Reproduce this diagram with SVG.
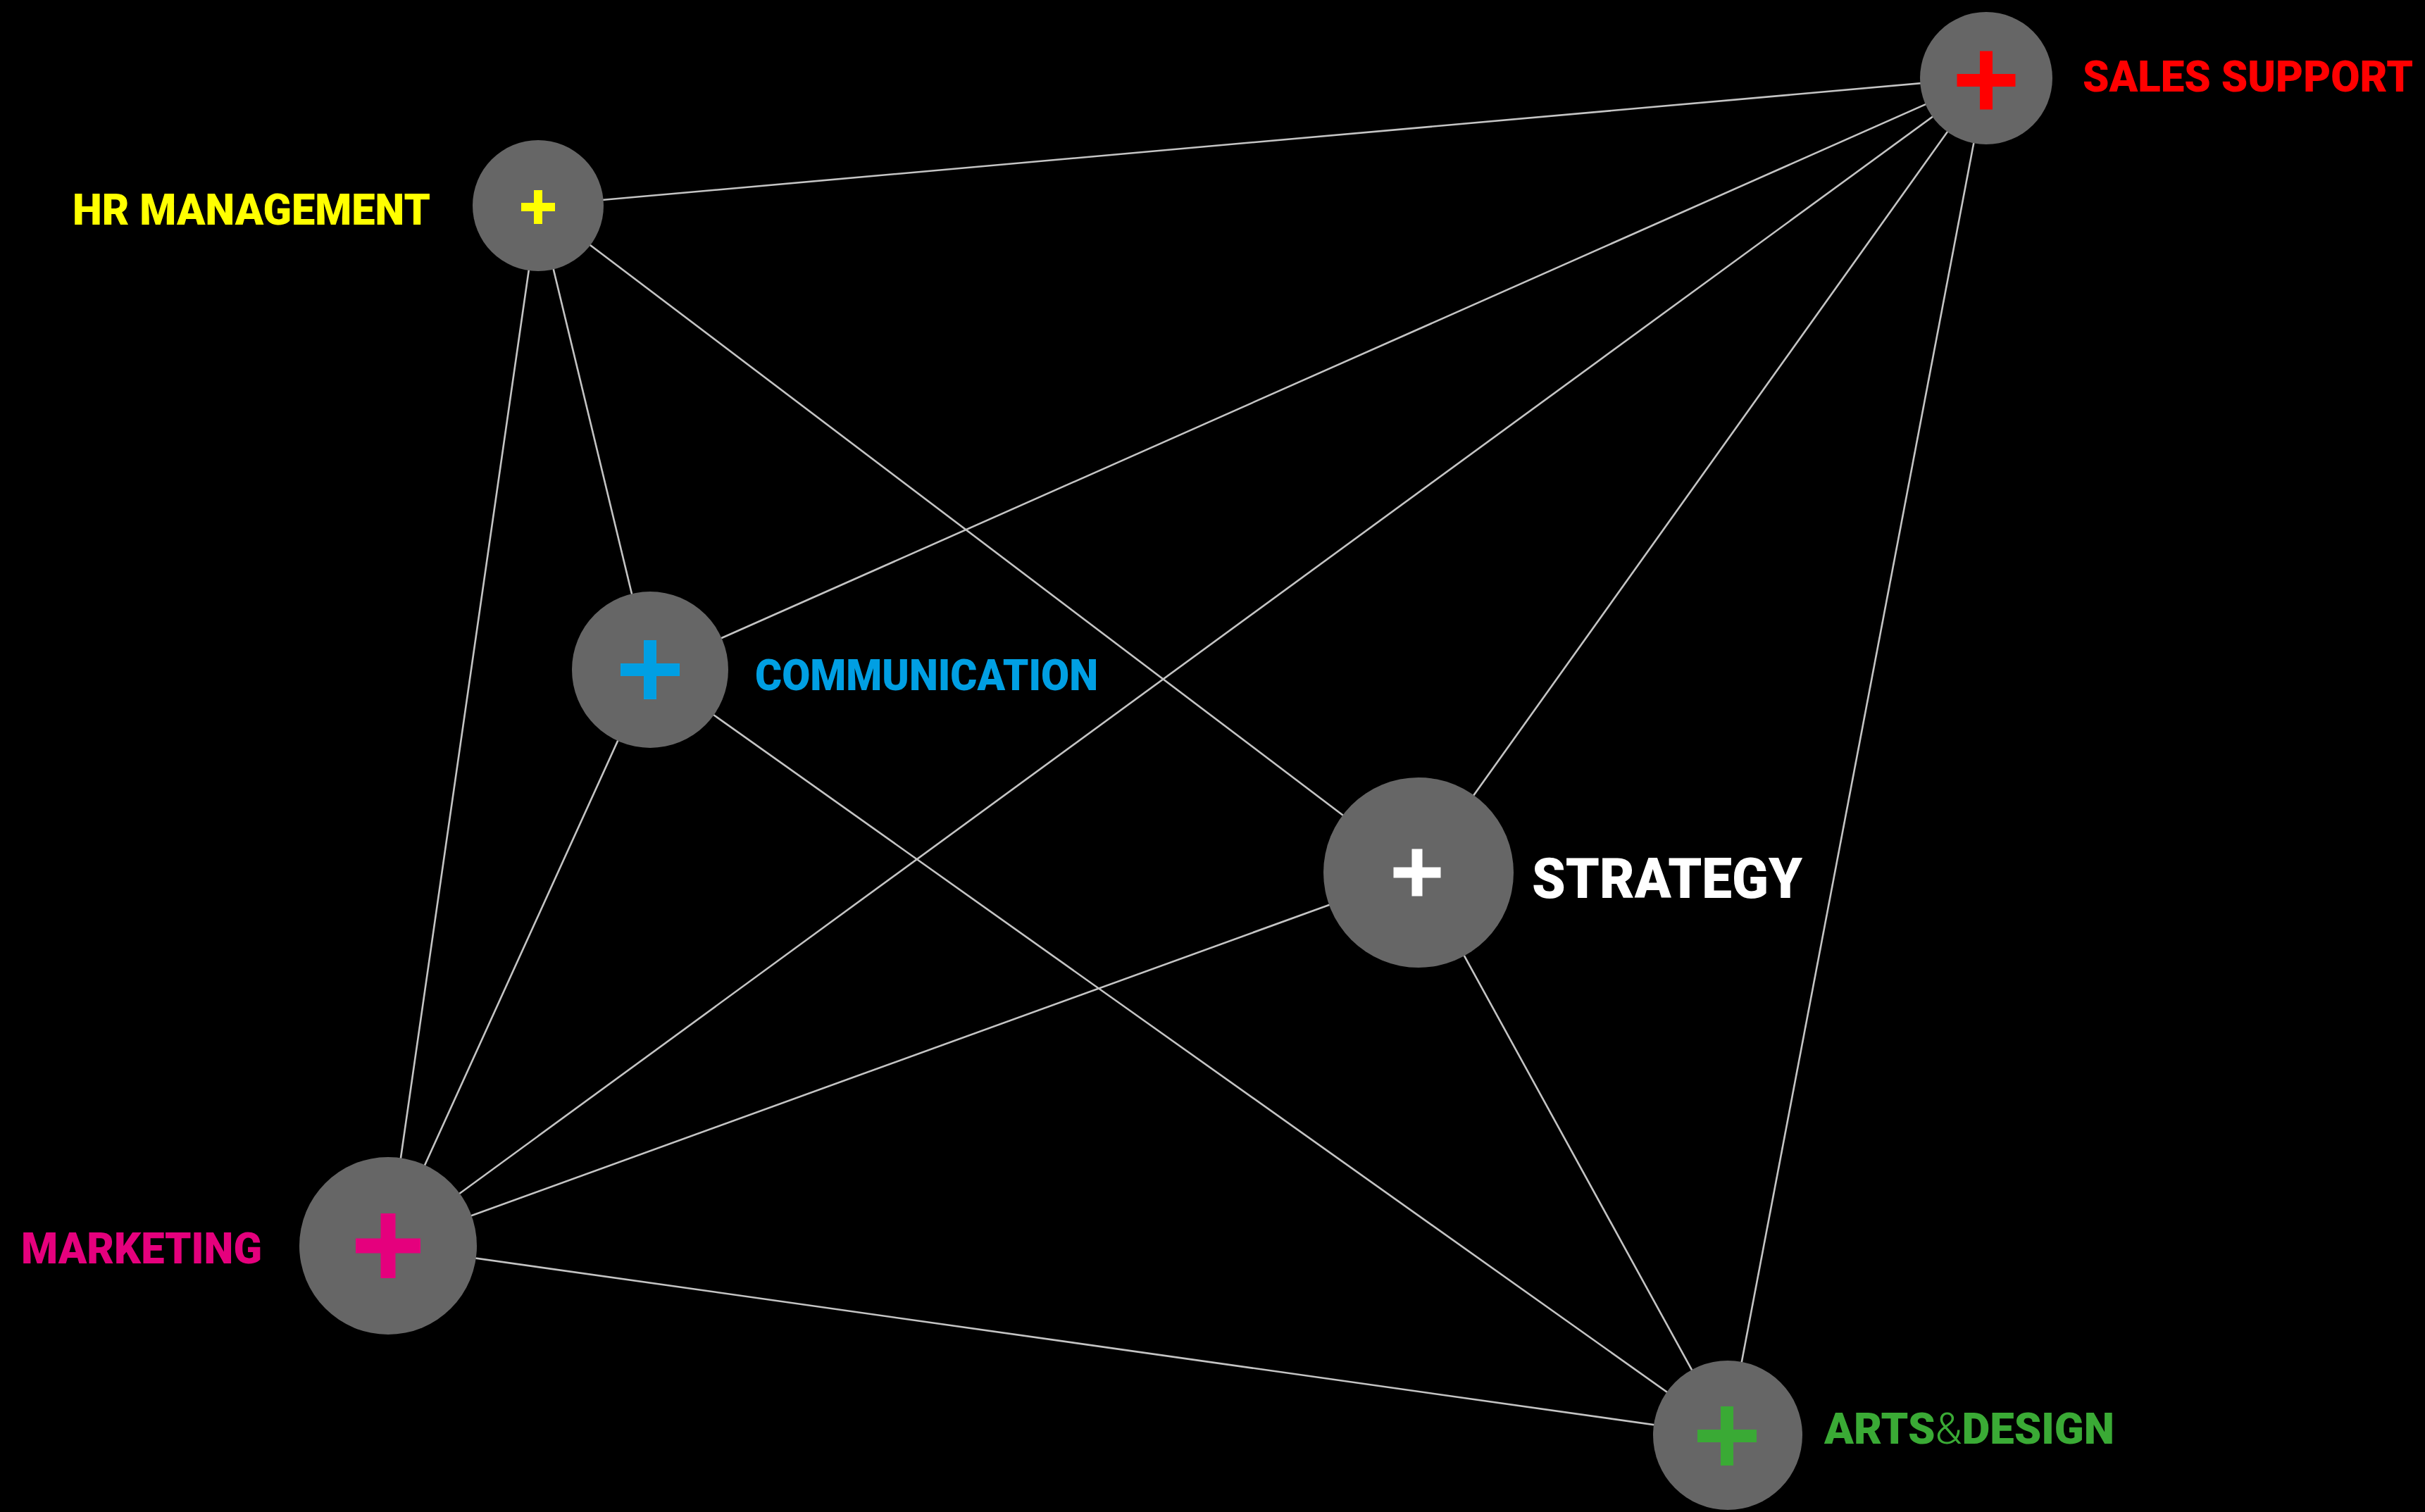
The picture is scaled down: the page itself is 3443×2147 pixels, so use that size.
<svg xmlns="http://www.w3.org/2000/svg" width="3443" height="2147" viewBox="0 0 3443 2147">
<style>
.edge{stroke:#c4c4c4;stroke-width:2.6;fill:none}
.disc{fill:#666666}
.plus{fill:none;stroke-linecap:butt}
.lbl{font-family:"Roboto","DejaVu Sans Condensed","Liberation Sans",sans-serif;font-weight:900;font-size:62px}
.amp{font-weight:300}
</style>
<rect x="0" y="0" width="3443" height="2147" fill="#000000"/>
<g id="connectors">
<line class="edge" x1="764" y1="292" x2="2820" y2="110"/>
<line class="edge" x1="764" y1="292" x2="923" y2="951"/>
<line class="edge" x1="764" y1="292" x2="551" y2="1769"/>
<line class="edge" x1="764" y1="292" x2="2014" y2="1239"/>
<line class="edge" x1="2820" y1="110" x2="923" y2="951"/>
<line class="edge" x1="2820" y1="110" x2="551" y2="1769"/>
<line class="edge" x1="2820" y1="110" x2="2014" y2="1239"/>
<line class="edge" x1="2820" y1="110" x2="2453" y2="2038"/>
<line class="edge" x1="923" y1="951" x2="551" y2="1769"/>
<line class="edge" x1="923" y1="951" x2="2453" y2="2038"/>
<line class="edge" x1="2014" y1="1239" x2="551" y2="1769"/>
<line class="edge" x1="2014" y1="1239" x2="2453" y2="2038"/>
<line class="edge" x1="551" y1="1769" x2="2453" y2="2038"/>
</g>
<g id="hr-management">
<circle class="disc" cx="764" cy="292" r="93"/>
<path class="plus" d="M740,294 h48 M764,270 v48" stroke="#ffff00" stroke-width="12"/>
<text class="lbl" x="103" y="319" fill="#ffff00" textLength="508" lengthAdjust="spacingAndGlyphs">HR MANAGEMENT</text>
</g>
<g id="sales-support">
<circle class="disc" cx="2820" cy="111" r="94"/>
<path class="plus" d="M2778.5,114 h83 M2820,72.5 v83" stroke="#ff0000" stroke-width="18"/>
<text class="lbl" x="2957" y="130" fill="#ff0000" textLength="469" lengthAdjust="spacingAndGlyphs">SALES SUPPORT</text>
</g>
<g id="communication">
<circle class="disc" cx="923" cy="951" r="111"/>
<path class="plus" d="M881,951 h84 M923,909 v84" stroke="#009fe3" stroke-width="18"/>
<text class="lbl" x="1072" y="980" fill="#009fe3" textLength="487" lengthAdjust="spacingAndGlyphs">COMMUNICATION</text>
</g>
<g id="strategy">
<circle class="disc" cx="2014" cy="1239" r="135"/>
<path class="plus" d="M1978.5,1239 h67 M2012,1205.5 v67" stroke="#ffffff" stroke-width="15"/>
<text class="lbl" x="2175" y="1275" fill="#ffffff" style="font-size:80px" textLength="384" lengthAdjust="spacingAndGlyphs">STRATEGY</text>
</g>
<g id="marketing">
<circle class="disc" cx="551" cy="1769" r="126"/>
<path class="plus" d="M505,1769 h92 M551,1723 v92" stroke="#e5007d" stroke-width="21"/>
<text class="lbl" x="30" y="1794" fill="#e5007d" textLength="342" lengthAdjust="spacingAndGlyphs">MARKETING</text>
</g>
<g id="arts-design">
<circle class="disc" cx="2453" cy="2038" r="106"/>
<path class="plus" d="M2410,2039 h84 M2452,1997 v84" stroke="#3aaa35" stroke-width="18"/>
<text class="lbl" x="2590" y="2050" fill="#3aaa35" textLength="412" lengthAdjust="spacingAndGlyphs">ARTS<tspan class="amp">&amp;</tspan>DESIGN</text>
</g>
</svg>
